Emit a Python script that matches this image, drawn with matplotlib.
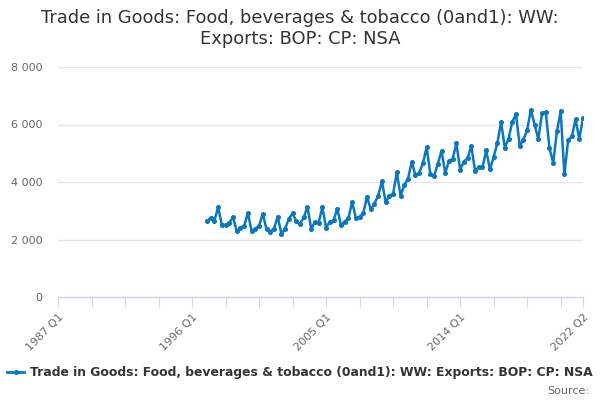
import matplotlib
matplotlib.use("Agg")
import matplotlib.pyplot as plt
from matplotlib.lines import Line2D

# Categories: quarters 1987 Q1 .. 2022 Q2
years = list(range(1987, 2023))
quarters = [f"{y} Q{q}" for y in years for q in range(1, 5)]
quarters = quarters[:quarters.index("2022 Q2") + 1]

# Data from 1997 Q1 to 2022 Q2
data_start = "1997 Q1"
values = [
    2643, 2747, 2655, 3115, 2517, 2505, 2586, 2781,
    2287, 2414, 2471, 2931, 2287, 2379, 2471, 2896,
    2356, 2276, 2379, 2793, 2195, 2379, 2724, 2908,
    2632, 2540, 2770, 3138, 2379, 2597, 2586, 3115,
    2414, 2620, 2666, 3069, 2494, 2620, 2747, 3298,
    2747, 2781, 2931, 3482, 3046, 3252, 3528, 4025,
    3300, 3520, 3585, 4335, 3525, 3884, 4116, 4695,
    4232, 4313, 4649, 5205, 4278, 4209, 4626, 5090,
    4313, 4730, 4811, 5344, 4429, 4707, 4834, 5252,
    4394, 4522, 4510, 5101, 4440, 4869, 5356, 6086,
    5194, 5507, 6086, 6353, 5263, 5472, 5808, 6515,
    5993, 5495, 6388, 6434, 5171, 4672, 5762, 6469,
    4267, 5449, 5588, 6179, 5495, 6225,
]
label_cats = ["1987 Q1", "1996 Q1", "2005 Q1", "2014 Q1", "2022 Q2"]
y_ticks = [0, 2000, 4000, 6000, 8000]

title = "Trade in Goods: Food, beverages & tobacco (0and1): WW:\nExports: BOP: CP: NSA"
series_name = "Trade in Goods: Food, beverages & tobacco (0and1): WW: Exports: BOP: CP: NSA"

color = "#0a77bf"

fig = plt.figure(figsize=(6, 4), dpi=100)
ax = fig.add_axes([58/600, 103/400, 525/600, 230/400])

start = quarters.index(data_start)
xs = list(range(start, start + len(values)))
ax.plot(xs, values, color=color, lw=1.8, marker="o", ms=2.6, zorder=3)

n = len(quarters)
ax.set_xlim(0, n - 1)
ax.set_ylim(0, 8000)

ax.set_yticks(y_ticks)
ax.set_yticklabels([f"{v:,}".replace(",", " ") for v in y_ticks])
ax.grid(axis="y", color="#e6e6e6", lw=1)
ax.set_axisbelow(True)

ticks = list(range(0, n, 9))
if ticks[-1] != n - 1:
    ticks.append(n - 1)
ax.set_xticks(ticks)
ax.set_xticklabels([quarters[t] if quarters[t] in label_cats else "" for t in ticks],
                   rotation=45, ha="right", rotation_mode="anchor")
ax.tick_params(axis="x", length=7, color="#ccd6eb", labelcolor="#666666", labelsize=8, pad=4)
ax.tick_params(axis="y", length=0, labelcolor="#666666", labelsize=8, pad=11)

for s in ["top", "right", "left"]:
    ax.spines[s].set_visible(False)
ax.spines["bottom"].set_color("#ccd6eb")
ax.spines["bottom"].set_linewidth(1)

fig.text(0.5, 0.978, title, ha="center", va="top", fontsize=12.9, color="#333333",
         linespacing=1.2)

handle = Line2D([0], [0], color=color, lw=2, marker="o", ms=2.6)
fig.legend([handle], [series_name], loc="center", bbox_to_anchor=(0.5, 0.068),
           frameon=False, handlelength=1.4, handletextpad=0.45,
           prop={"size": 8.9, "weight": "bold"}, labelcolor="#333333")
fig.text(0.982, 0.022, "Source:", ha="right", va="center", fontsize=8, color="#666666")

fig.savefig("out.png", dpi=100)
